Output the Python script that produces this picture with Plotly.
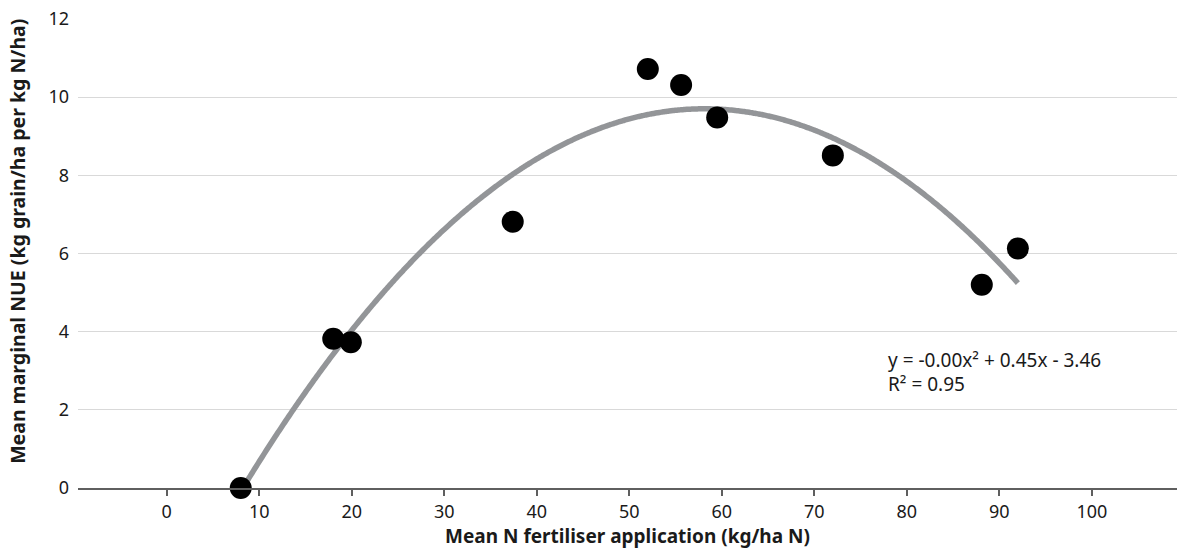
import numpy as np
import plotly.graph_objects as go

# Data
n_rate = [8.0, 18.0, 19.9, 37.4, 52.0, 55.6, 59.5, 72.0, 88.1, 92.0]
marginal_nue = [0.0, 3.82, 3.73, 6.81, 10.72, 10.31, 9.48, 8.51, 5.20, 6.13]
x_ticks = [0, 10, 20, 30, 40, 50, 60, 70, 80, 90, 100]
y_ticks = [0, 2, 4, 6, 8, 10, 12]
eq_text = "y = -0.00x² + 0.45x - 3.46"
r2_text = "R² = 0.95"

# Polynomial (order 2) trendline fitted to the data, as in the source chart
coef = np.polyfit(n_rate, marginal_nue, 2)
xs = np.linspace(min(n_rate), max(n_rate), 400)
ys = np.polyval(coef, xs)

FONT = "Noto Sans"
AXC = "#5f5f5f"
TXT = "#1a1a1a"

fig = go.Figure()
fig.add_trace(go.Scatter(x=xs, y=ys, mode="lines",
                         line=dict(color="#939598", width=5.5, shape="spline", simplify=False),
                         hoverinfo="skip", showlegend=False, cliponaxis=False))
fig.add_trace(go.Scatter(x=n_rate, y=marginal_nue, mode="markers",
                         marker=dict(color="#000000", size=22, line=dict(width=0)),
                         showlegend=False, cliponaxis=False))

fig.add_annotation(x=0.735, y=0.273, xref="paper", yref="paper",
                   text=eq_text, showarrow=False, xanchor="left", yanchor="middle",
                   font=dict(family=FONT, size=19, color=TXT))
fig.add_annotation(x=0.735, y=0.221, xref="paper", yref="paper",
                   text=r2_text, showarrow=False, xanchor="left", yanchor="middle",
                   font=dict(family=FONT, size=19, color=TXT))
# y-axis title
fig.add_annotation(x=-0.0546, y=0.527, xref="paper", yref="paper",
                   text="<b>Mean marginal NUE (kg grain/ha per kg N/ha)</b>",
                   textangle=-90, showarrow=False, xanchor="center", yanchor="middle",
                   font=dict(family=FONT, size=19.5, color=TXT))

fig.update_layout(
    width=1177, height=555,
    margin=dict(l=78, r=0, t=19, b=67),
    paper_bgcolor="white", plot_bgcolor="white",
    font=dict(family=FONT, size=18, color=TXT),
    xaxis=dict(range=[-9.59, 109.2], tickvals=x_ticks,
               showgrid=False, zeroline=False,
               showline=True, linecolor=AXC, linewidth=2,
               ticks="outside", ticklen=6, tickwidth=2, tickcolor=AXC,
               tickfont=dict(family=FONT, size=18, color=TXT),
               title=dict(text="<b>Mean N fertiliser application (kg/ha N)</b>",
                          font=dict(family=FONT, size=19, color=TXT),
                          standoff=6)),
    yaxis=dict(range=[0, 12], tickvals=y_ticks,
               showgrid=True, gridcolor="#d9d9d9", gridwidth=1,
               zeroline=False, showline=False, ticks="",
               ticklabelstandoff=8,
               tickfont=dict(family=FONT, size=18, color=TXT)),
)

fig.write_html("out.html")
